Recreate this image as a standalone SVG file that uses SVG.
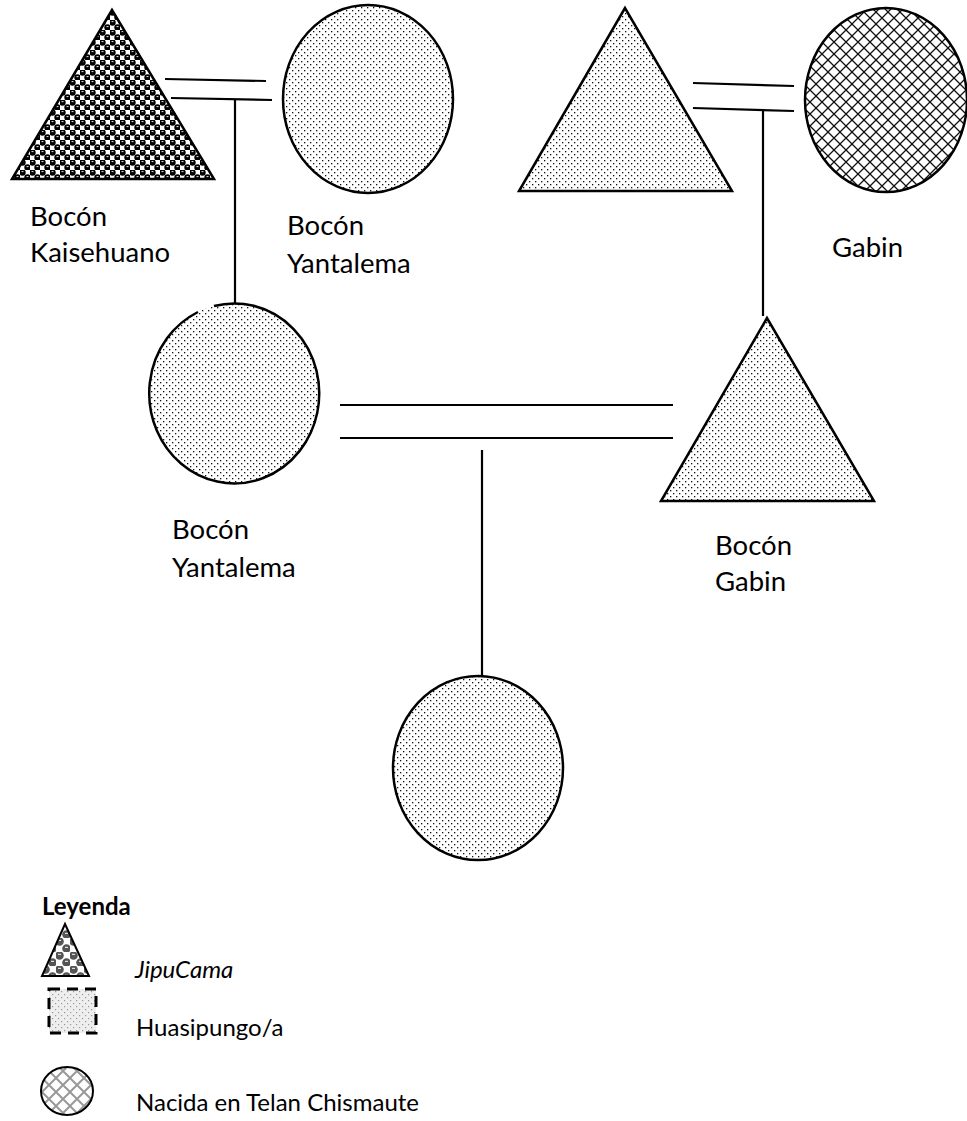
<svg xmlns="http://www.w3.org/2000/svg" width="967" height="1121" viewBox="0 0 967 1121">
  <defs>
    <!-- fine staggered dot fill -->
    <pattern id="dots" patternUnits="userSpaceOnUse" width="6" height="6">
      <rect width="6" height="6" fill="#fff"/>
      <rect x="1" y="1" width="1.3" height="1.3" fill="#111"/>
      <rect x="4" y="4" width="1.3" height="1.3" fill="#111"/>
    </pattern>
    <!-- black checker with shaded spheres -->
    <pattern id="checker" patternUnits="userSpaceOnUse" width="10" height="10">
      <rect width="10" height="10" fill="#fff"/>
      <circle cx="2.5" cy="2.5" r="3.2" fill="#000"/>
      <circle cx="7.5" cy="7.5" r="3.2" fill="#000"/>
      <rect x="1.5" y="1.2" width="2" height="0.9" fill="#fff"/>
      <rect x="6.5" y="6.2" width="2" height="0.9" fill="#fff"/>
    </pattern>
    <!-- diagonal crosshatch -->
    <pattern id="hatch" patternUnits="userSpaceOnUse" width="12" height="12">
      <rect width="12" height="12" fill="#fff"/>
      <path d="M0 0 L12 12 M12 0 L0 12" stroke="#111" stroke-width="1.3"/>
    </pattern>
    <!-- legend swatches -->
    <pattern id="checkerGrey" patternUnits="userSpaceOnUse" width="14" height="14">
      <rect width="14" height="14" fill="#fff"/>
      <circle cx="3.5" cy="3.5" r="4.3" fill="#555"/>
      <circle cx="10.5" cy="10.5" r="4.3" fill="#555"/>
      <rect x="2" y="1.8" width="3" height="1.2" fill="#ddd"/>
      <rect x="9" y="8.8" width="3" height="1.2" fill="#ddd"/>
    </pattern>
    <pattern id="dotsGrey" patternUnits="userSpaceOnUse" width="6" height="6">
      <rect width="6" height="6" fill="#eee"/>
      <rect x="1" y="1" width="1.2" height="1.2" fill="#999"/>
      <rect x="4" y="4" width="1.2" height="1.2" fill="#999"/>
    </pattern>
    <pattern id="hatchGrey" patternUnits="userSpaceOnUse" width="14" height="14">
      <rect width="14" height="14" fill="#fff"/>
      <path d="M0 0 L14 14 M14 0 L0 14" stroke="#999" stroke-width="2"/>
    </pattern>
  </defs>
  <style>
    .shape { stroke: #000; stroke-width: 2.5; }
    .link { stroke: #000; stroke-width: 2.2; fill: none; }
    .lbl { font-family: Lato, "Liberation Sans", sans-serif; font-size: 27.5px; fill: #000; }
    .leg { font-family: Lato, "Liberation Sans", sans-serif; font-size: 24px; fill: #000; }
  </style>
  <rect width="967" height="1121" fill="#fff"/>

  <!-- connectors -->
  <g id="connectors" class="link">
    <path d="M165 79 L266 81"/>
    <path d="M171 98 L272 100"/>
    <path d="M235 99 L235 303"/>
    <path d="M693 83 L794 86"/>
    <path d="M693 108 L794 111"/>
    <path d="M763 110 L763 316"/>
    <path d="M340 405 L673 405"/>
    <path d="M340 438 L673 438"/>
    <path d="M482 450 L482 677"/>
  </g>

  <g id="bocon-kaisehuano">
    <polygon class="shape" points="112,10 12,179 214,179" fill="url(#checker)"/>
    <text class="lbl" x="30" y="226">Bocón</text>
    <text class="lbl" x="30" y="262">Kaisehuano</text>
  </g>

  <g id="bocon-yantalema-top">
    <ellipse class="shape" cx="368" cy="99" rx="85" ry="94" fill="url(#dots)"/>
    <text class="lbl" x="287" y="235">Bocón</text>
    <text class="lbl" x="287" y="273">Yantalema</text>
  </g>

  <g id="padre-gabin">
    <polygon class="shape" points="625,8 519,191 732,191" fill="url(#dots)"/>
  </g>

  <g id="gabin">
    <ellipse class="shape" cx="886" cy="100" rx="81" ry="92" fill="url(#hatch)"/>
    <text class="lbl" x="832" y="257">Gabin</text>
  </g>

  <g id="bocon-yantalema">
    <ellipse cx="235" cy="393" rx="85" ry="90" fill="url(#dots)"/>
    <path class="shape" fill="none" d="M214 306 A85 90 0 1 1 198 312"/>
    <text class="lbl" x="172" y="539">Bocón</text>
    <text class="lbl" x="172" y="577">Yantalema</text>
  </g>

  <g id="bocon-gabin">
    <polygon class="shape" points="767,318 661,501 874,501" fill="url(#dots)"/>
    <text class="lbl" x="715" y="555">Bocón</text>
    <text class="lbl" x="715" y="591">Gabin</text>
  </g>

  <g id="hija">
    <ellipse class="shape" cx="478" cy="768" rx="85" ry="92" fill="url(#dots)"/>
  </g>

  <g id="leyenda">
    <text class="leg" x="42" y="915" font-weight="bold">Leyenda</text>
    <polygon points="65,924 42,976 89,976" fill="url(#checkerGrey)" stroke="#000" stroke-width="2"/>
    <text class="leg" x="135" y="978" font-style="italic">JipuCama</text>
    <rect x="49" y="989" width="47" height="44" fill="url(#dotsGrey)" stroke="#000" stroke-width="3" stroke-dasharray="11 7"/>
    <text class="leg" x="136" y="1036">Huasipungo/a</text>
    <ellipse cx="67" cy="1091" rx="26" ry="24" fill="url(#hatchGrey)" stroke="#000" stroke-width="2"/>
    <text class="leg" x="136" y="1111">Nacida en Telan Chismaute</text>
  </g>
</svg>
